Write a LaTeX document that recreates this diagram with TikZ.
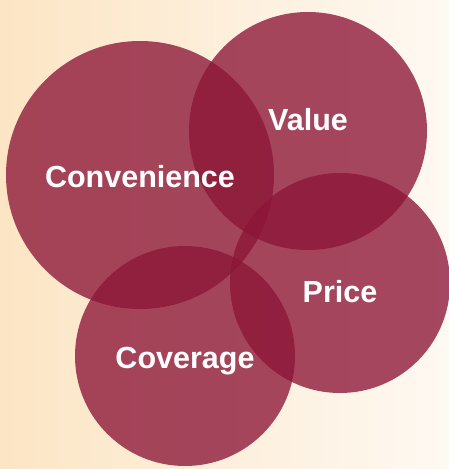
\documentclass[tikz,border=0pt]{standalone}
\usepackage{fontspec}
\setmainfont{Liberation Sans}
\definecolor{bgl}{RGB}{252,229,196}
\definecolor{bgr}{RGB}{254,249,243}
\definecolor{wine}{RGB}{140,21,55}
\begin{document}
\begin{tikzpicture}[x=1pt,y=-1pt,
  disc/.style={fill=wine,fill opacity=0.78},
  lab/.style={text=white,font=\fontsize{30.5}{36}\selectfont\bfseries,anchor=base,inner sep=0pt}]
\fill[left color=bgl,right color=bgr] (0,0) rectangle (449,469);
\useasboundingbox (0,0) rectangle (449,469);
\fill[disc] (140,175) circle[radius=134];
\fill[disc] (308,131) circle[radius=119];
\fill[disc] (340,283) circle[radius=110];
\fill[disc] (185,356) circle[radius=110];
\node[lab] (conv) at (140,187) {Convenience};
\node[lab] (val) at (308,130) {Value};
\node[lab] (pri) at (340,302) {Price};
\node[lab] (cov) at (185,368) {Coverage};
\end{tikzpicture}
\end{document}
